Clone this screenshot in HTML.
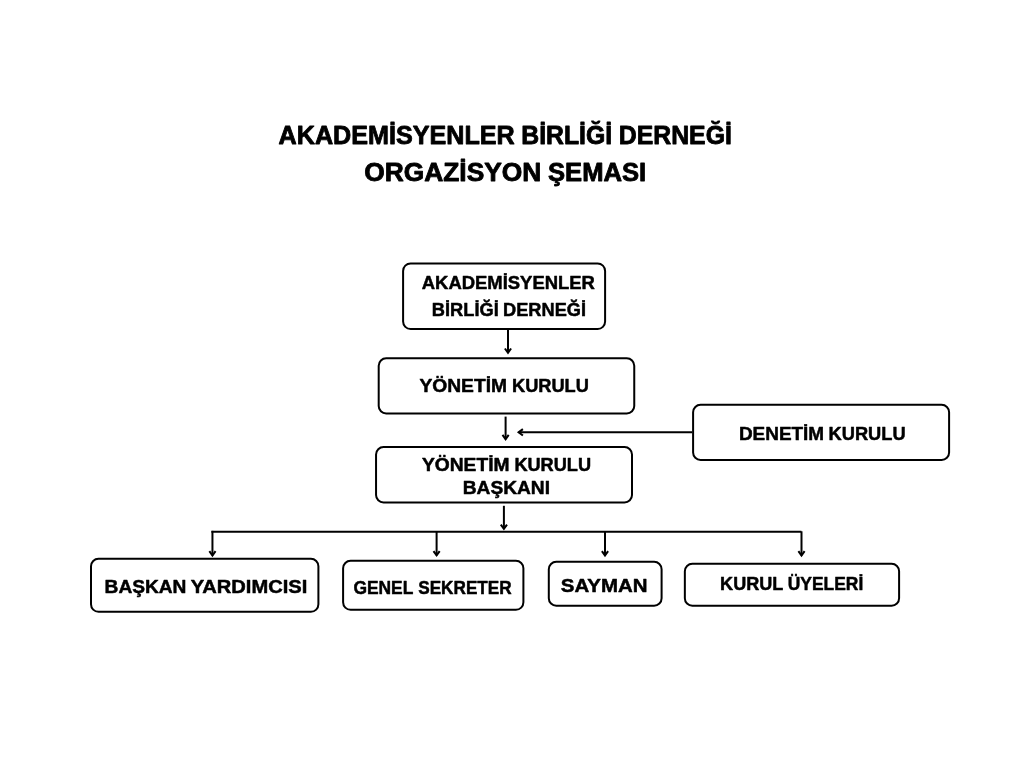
<!DOCTYPE html>
<html><head><meta charset="utf-8"><title>Organizasyon Şeması</title>
<style>
html,body{margin:0;padding:0;background:#fff;}
body{width:1024px;height:768px;overflow:hidden;}
svg{display:block;will-change:transform;}
text{font-family:"Liberation Sans",sans-serif;font-weight:bold;fill:#000;stroke:#000;stroke-linejoin:round;}
.b{fill:#fff;stroke:#000;stroke-width:2;}
.l{fill:none;stroke:#000;stroke-width:2;stroke-linecap:butt;stroke-linejoin:miter;}
</style></head><body>
<svg width="1024" height="768" viewBox="0 0 1024 768">
<rect width="1024" height="768" fill="#fff"/>
<rect class="b" x="403.10" y="263.40" width="202.00" height="65.70" rx="7.5" ry="7.5"/>
<rect class="b" x="378.70" y="358.30" width="255.55" height="55.20" rx="7.5" ry="7.5"/>
<rect class="b" x="376.05" y="447.10" width="255.95" height="55.40" rx="7.5" ry="7.5"/>
<rect class="b" x="693.10" y="404.80" width="256.00" height="55.10" rx="7.5" ry="7.5"/>
<rect class="b" x="91.00" y="558.80" width="227.40" height="53.00" rx="7.5" ry="7.5"/>
<rect class="b" x="343.10" y="560.75" width="180.30" height="49.05" rx="7.5" ry="7.5"/>
<rect class="b" x="548.80" y="561.75" width="112.80" height="44.00" rx="7.5" ry="7.5"/>
<rect class="b" x="684.85" y="563.85" width="214.25" height="41.90" rx="7.5" ry="7.5"/>
<path class="l" d="M211.4 531.85H801.4"/>
<path class="l" d="M508.0 330V352.80"/><path class="l" d="M504.90 348.50L508.0 352.80L511.10 348.50"/>
<path class="l" d="M505.6 416.6V439.20"/><path class="l" d="M502.50 434.90L505.6 439.20L508.70 434.90"/>
<path class="l" d="M503.9 505.8V528.90"/><path class="l" d="M500.80 524.60L503.9 528.90L507.00 524.60"/>
<path class="l" d="M212.45 530.85V555.50"/><path class="l" d="M209.35 551.20L212.45 555.50L215.55 551.20"/>
<path class="l" d="M436.6 531.85V555.40"/><path class="l" d="M433.50 551.10L436.6 555.40L439.70 551.10"/>
<path class="l" d="M605.0 531.85V555.50"/><path class="l" d="M601.90 551.20L605.0 555.50L608.10 551.20"/>
<path class="l" d="M801.5 531.3V555.50"/><path class="l" d="M798.40 551.20L801.5 555.50L804.60 551.20"/>
<path class="l" d="M692.1 432.35H518.6"/>
<path class="l" d="M522.9 429.15L518.6 432.35L522.9 435.55"/>
<text x="278.62" y="144.40" font-size="24.86" stroke-width="0.8" textLength="236.09" lengthAdjust="spacingAndGlyphs">AKADEMİSYENLER</text>
<text x="521.24" y="144.40" font-size="24.86" stroke-width="0.8" textLength="90.91" lengthAdjust="spacingAndGlyphs">BİRLİĞİ</text>
<text x="618.79" y="144.40" font-size="24.86" stroke-width="0.8" textLength="113.06" lengthAdjust="spacingAndGlyphs">DERNEĞİ</text>
<text x="364.25" y="181.35" font-size="24.86" stroke-width="0.8" textLength="177.02" lengthAdjust="spacingAndGlyphs">ORGAZİSYON</text>
<text x="547.98" y="181.35" font-size="24.86" stroke-width="0.8" textLength="98.20" lengthAdjust="spacingAndGlyphs">ŞEMASI</text>
<text x="421.76" y="288.50" font-size="18.72" stroke-width="0.5" textLength="173.14" lengthAdjust="spacingAndGlyphs">AKADEMİSYENLER</text>
<text x="431.87" y="315.50" font-size="18.72" stroke-width="0.5" textLength="66.84" lengthAdjust="spacingAndGlyphs">BİRLİĞİ</text>
<text x="503.09" y="315.50" font-size="18.72" stroke-width="0.5" textLength="82.91" lengthAdjust="spacingAndGlyphs">DERNEĞİ</text>
<text x="419.45" y="391.50" font-size="18.72" stroke-width="0.5" textLength="87.60" lengthAdjust="spacingAndGlyphs">YÖNETİM</text>
<text x="511.97" y="391.50" font-size="18.72" stroke-width="0.5" textLength="76.94" lengthAdjust="spacingAndGlyphs">KURULU</text>
<text x="421.96" y="470.65" font-size="18.72" stroke-width="0.5" textLength="87.54" lengthAdjust="spacingAndGlyphs">YÖNETİM</text>
<text x="514.38" y="470.65" font-size="18.72" stroke-width="0.5" textLength="76.70" lengthAdjust="spacingAndGlyphs">KURULU</text>
<text x="462.69" y="493.75" font-size="18.72" stroke-width="0.5" textLength="87.35" lengthAdjust="spacingAndGlyphs">BAŞKANI</text>
<text x="738.92" y="440.45" font-size="18.72" stroke-width="0.5" textLength="85.20" lengthAdjust="spacingAndGlyphs">DENETİM</text>
<text x="828.54" y="440.45" font-size="18.72" stroke-width="0.5" textLength="77.04" lengthAdjust="spacingAndGlyphs">KURULU</text>
<text x="104.58" y="592.55" font-size="18.72" stroke-width="0.5" textLength="81.86" lengthAdjust="spacingAndGlyphs">BAŞKAN</text>
<text x="190.69" y="592.55" font-size="18.72" stroke-width="0.5" textLength="116.57" lengthAdjust="spacingAndGlyphs">YARDIMCISI</text>
<text x="353.42" y="594.25" font-size="18.72" stroke-width="0.5" textLength="59.96" lengthAdjust="spacingAndGlyphs">GENEL</text>
<text x="418.26" y="594.25" font-size="18.72" stroke-width="0.5" textLength="93.36" lengthAdjust="spacingAndGlyphs">SEKRETER</text>
<text x="560.78" y="591.50" font-size="18.72" stroke-width="0.5" textLength="86.72" lengthAdjust="spacingAndGlyphs">SAYMAN</text>
<text x="720.12" y="590.25" font-size="18.72" stroke-width="0.5" textLength="63.22" lengthAdjust="spacingAndGlyphs">KURUL</text>
<text x="787.79" y="590.25" font-size="18.72" stroke-width="0.5" textLength="75.51" lengthAdjust="spacingAndGlyphs">ÜYELERİ</text>
</svg></body></html>
